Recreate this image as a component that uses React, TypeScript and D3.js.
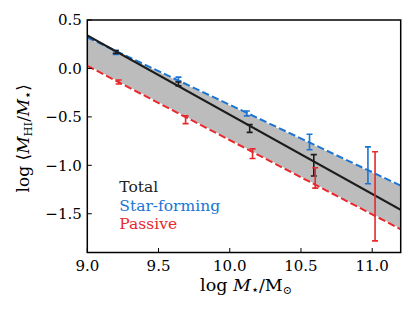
import React from "react";
import * as d3 from "d3";

// fitted relations (end points of each line)
const fitX = [9.0, 11.2];
const totalFit = [0.34, -1.46];
const sfFit = [0.32, -1.21];
const passiveFit = [0.027, -1.66];

// binned measurements with error bars
const totalX = [9.2, 9.64, 10.14, 10.59];
const totalY = [0.17, -0.16, -0.62, -1.0];
const totalErr = [0.015, 0.02, 0.04, 0.11];

const sfX = [9.2, 9.64, 10.12, 10.56, 10.97];
const sfY = [0.165, -0.11, -0.465, -0.76, -1.0];
const sfErr = [0.02, 0.02, 0.025, 0.08, 0.19];

const passiveX = [9.22, 9.69, 10.16, 10.6, 11.02];
const passiveY = [-0.14, -0.53, -0.88, -1.13, -1.32];
const passiveErr = [0.02, 0.04, 0.05, 0.105, 0.46];

const xTicks = [9.0, 9.5, 10.0, 10.5, 11.0];
const yTicks = [0.5, 0.0, -0.5, -1.0, -1.5];
const legendLabels = ["Total", "Star-forming", "Passive"];

const BLACK = "#1c1c1c";
const BLUE = "#1b74d3";
const RED = "#e8282d";
const serif = { fontFamily: "'DejaVu Serif'" };

const W = 415;
const H = 318;
const margin = { top: 20, right: 14.3, bottom: 65.5, left: 87.3 };

const fmt = (v: number) => d3.format(".1f")(v).replace("-", "\u2212");

export default function App() {
  const iw = W - margin.left - margin.right;
  const ih = H - margin.top - margin.bottom;

  const x = d3.scaleLinear().domain([9.0, 11.2]).range([0, iw]);
  const y = d3.scaleLinear().domain([-1.9, 0.5]).range([ih, 0]);

  const line = d3
    .line<[number, number]>()
    .x((d) => x(d[0]))
    .y((d) => y(d[1]));

  const band = d3
    .area<number>()
    .x((d) => x(fitX[d]))
    .y0((d) => y(passiveFit[d]))
    .y1((d) => y(sfFit[d]));

  const pts = (ys: number[]) => fitX.map((v, i) => [v, ys[i]] as [number, number]);

  const errBars = (xs: number[], ys: number[], es: number[], color: string) =>
    xs.map((xv, i) => {
      const cx = x(xv);
      const y0 = y(ys[i] + es[i]);
      const y1 = y(ys[i] - es[i]);
      return (
        <g key={color + i} stroke={color} strokeWidth={1.6}>
          <line x1={cx} x2={cx} y1={y0} y2={y1} />
          <line x1={cx - 3} x2={cx + 3} y1={y0} y2={y0} />
          <line x1={cx - 3} x2={cx + 3} y1={y1} y2={y1} />
        </g>
      );
    });

  return (
    <svg
      width={W}
      height={H}
      style={{ position: "absolute", left: 0, top: 0, background: "white" }}
    >
      <g transform={`translate(${margin.left},${margin.top})`}>
        <defs>
          <clipPath id="plot">
            <rect x={0} y={0} width={iw} height={ih} />
          </clipPath>
        </defs>
        <g clipPath="url(#plot)">
          {/* shaded region between star-forming and passive fits */}
          <path
            d={band([0, 1]) ?? ""}
            fill="#bcbcbc"
            stroke="white"
            strokeWidth={1.2}
          />
          <path
            d={line(pts(passiveFit)) ?? ""}
            fill="none"
            stroke={RED}
            strokeWidth={2}
            strokeDasharray="7.4 3.2"
          />
          <path
            d={line(pts(sfFit)) ?? ""}
            fill="none"
            stroke={BLUE}
            strokeWidth={2}
            strokeDasharray="7.4 3.2"
          />
          <path
            d={line(pts(totalFit)) ?? ""}
            fill="none"
            stroke={BLACK}
            strokeWidth={2.2}
          />
          {errBars(sfX, sfY, sfErr, BLUE)}
          {errBars(totalX, totalY, totalErr, BLACK)}
          {errBars(passiveX, passiveY, passiveErr, RED)}
        </g>

        {/* ticks, pointing inwards */}
        {xTicks.map((t) => (
          <g key={"xt" + t}>
            <line x1={x(t)} x2={x(t)} y1={ih} y2={ih - 4.5} stroke="black" strokeWidth={1} />
            <text x={x(t)} y={ih + 18.5} textAnchor="middle" fontSize={15} fill="black" style={serif}>
              {fmt(t)}
            </text>
          </g>
        ))}
        {yTicks.map((t) => (
          <g key={"yt" + t}>
            <line x1={0} x2={4.5} y1={y(t)} y2={y(t)} stroke="black" strokeWidth={1} />
            <text x={-5.5} y={y(t) + 5.4} textAnchor="end" fontSize={15} fill="black" style={serif}>
              {fmt(t)}
            </text>
          </g>
        ))}

        <rect x={0} y={0} width={iw} height={ih} fill="none" stroke="black" strokeWidth={1.5} />

        {/* legend as coloured text */}
        {legendLabels.map((lab, i) => (
          <text
            key={lab}
            x={32}
            y={171.7 + i * 18.8}
            fontSize={15.5}
            fill={[BLACK, BLUE, RED][i]}
            style={serif}
          >
            {lab}
          </text>
        ))}
      </g>

      {/* axis labels */}
      <text
        x={margin.left + iw / 2 + 2}
        y={291}
        textAnchor="middle"
        fontSize={17.5}
        fill="black"
        style={serif}
      >
        log{" "}
        <tspan fontStyle="italic">M</tspan>
        <tspan fontSize={13} dy={3}>⋆</tspan>
        <tspan dy={-3}>/M</tspan>
        <tspan fontSize={11} dy={3}>⊙</tspan>
      </text>
      <text
        transform={`translate(29,${margin.top + ih / 2 + 2}) rotate(-90)`}
        textAnchor="middle"
        fontSize={17}
        fill="black"
        style={serif}
      >
        log ⟨<tspan fontStyle="italic">M</tspan>
        <tspan fontSize={11.5} dy={3}>HI</tspan>
        <tspan dy={-3}>/</tspan>
        <tspan fontStyle="italic">M</tspan>
        <tspan fontSize={13} dy={3}>⋆</tspan>
        <tspan dy={-3}>⟩</tspan>
      </text>
    </svg>
  );
}
